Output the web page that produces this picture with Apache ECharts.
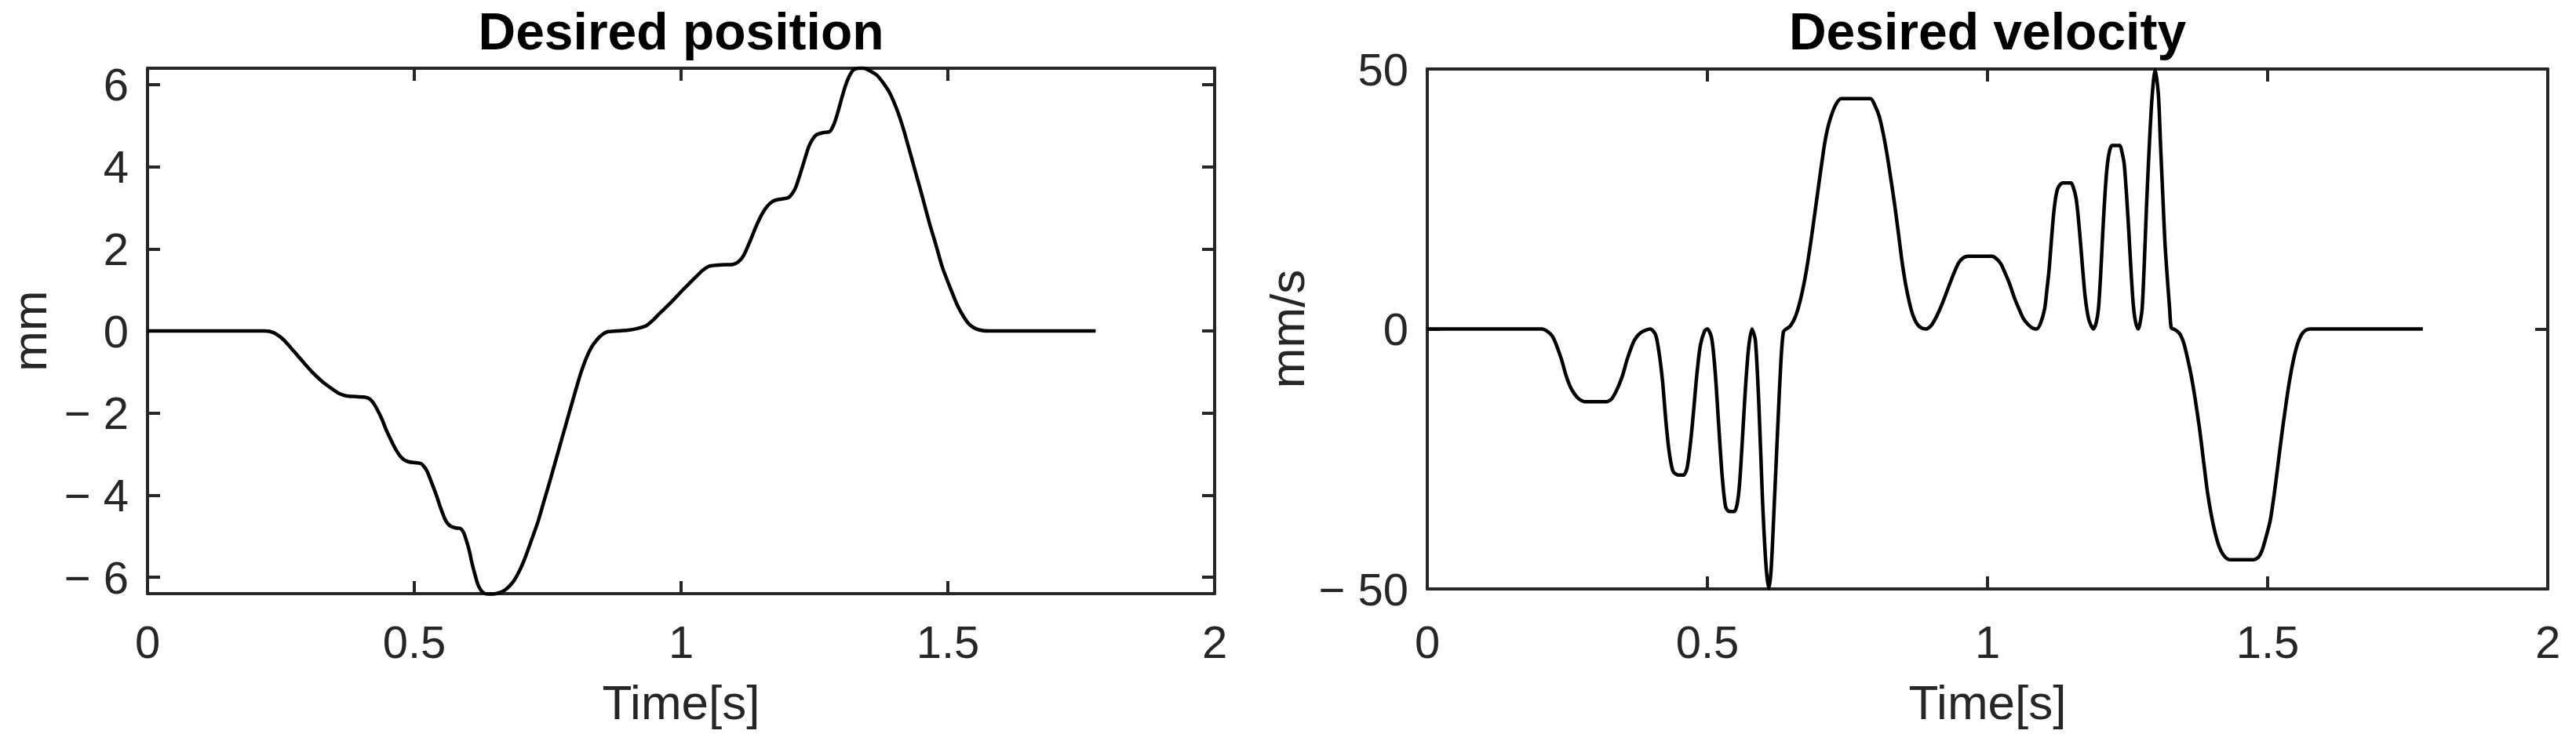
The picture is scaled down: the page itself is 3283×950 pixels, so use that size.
<!DOCTYPE html>
<html>
<head>
<meta charset="utf-8">
<script src="https://cdn.jsdelivr.net/npm/echarts@6/dist/echarts.min.js"></script>
<style>
html,body{margin:0;padding:0;background:#ffffff;}
#chart{width:3283px;height:950px;}
</style>
</head>
<body>
<div id="chart"></div>
<script>
// ---------------- DATA ----------------
const titles = ['Desired position', 'Desired velocity'];
const xAxisName = 'Time[s]';
const yAxisNames = ['mm', 'mm/s'];

const timeTicks = [0, 0.5, 1, 1.5, 2];
const posTicks = [-6, -4, -2, 0, 2, 4, 6];
const velTicks = [-50, 0, 50];

// Desired position (mm)
const posTime = [0, 0.22, 0.236, 0.253, 0.268, 0.282, 0.296, 0.310, 0.322, 0.332, 0.349, 0.360, 0.372, 0.390, 0.405, 0.414, 0.422, 0.430, 0.439, 0.447, 0.456, 0.465, 0.473, 0.481, 0.490, 0.503, 0.512, 0.518, 0.524, 0.532, 0.541, 0.549, 0.557, 0.563, 0.569, 0.578, 0.586, 0.592, 0.597, 0.603, 0.608, 0.614, 0.619, 0.625, 0.631, 0.640, 0.648, 0.659, 0.670, 0.678, 0.687, 0.698, 0.709, 0.720, 0.732, 0.743, 0.755, 0.766, 0.778, 0.790, 0.803, 0.812, 0.822, 0.832, 0.842, 0.852, 0.862, 0.880, 0.901, 0.918, 0.935, 0.948, 0.960, 0.980, 0.999, 1.014, 1.028, 1.040, 1.053, 1.075, 1.097, 1.107, 1.117, 1.129, 1.141, 1.151, 1.161, 1.171, 1.181, 1.200, 1.207, 1.215, 1.227, 1.239, 1.247, 1.254, 1.266, 1.279, 1.286, 1.293, 1.300, 1.308, 1.315, 1.323, 1.333, 1.342, 1.355, 1.367, 1.379, 1.391, 1.404, 1.416, 1.428, 1.440, 1.453, 1.465, 1.478, 1.490, 1.506, 1.518, 1.530, 1.541, 1.553, 1.565, 1.576, 1.777];
const posValue = [0, 0, -0.04, -0.19, -0.40, -0.61, -0.82, -1.02, -1.17, -1.28, -1.44, -1.53, -1.58, -1.60, -1.61, -1.64, -1.73, -1.90, -2.14, -2.40, -2.65, -2.88, -3.04, -3.14, -3.19, -3.21, -3.23, -3.30, -3.42, -3.68, -3.99, -4.30, -4.57, -4.70, -4.76, -4.80, -4.81, -4.90, -5.08, -5.35, -5.65, -5.95, -6.17, -6.32, -6.39, -6.41, -6.41, -6.38, -6.31, -6.22, -6.08, -5.82, -5.48, -5.08, -4.64, -4.15, -3.62, -3.11, -2.56, -2.01, -1.42, -1.03, -0.67, -0.40, -0.22, -0.09, -0.02, 0.0, 0.02, 0.06, 0.13, 0.27, 0.43, 0.68, 0.94, 1.14, 1.32, 1.47, 1.58, 1.61, 1.62, 1.68, 1.83, 2.18, 2.56, 2.83, 3.03, 3.15, 3.20, 3.24, 3.32, 3.50, 3.98, 4.48, 4.68, 4.78, 4.83, 4.86, 5.02, 5.29, 5.62, 5.97, 6.20, 6.36, 6.40, 6.40, 6.33, 6.23, 6.04, 5.80, 5.41, 4.95, 4.40, 3.84, 3.23, 2.65, 2.08, 1.54, 1.00, 0.62, 0.34, 0.15, 0.05, 0.01, 0, 0];

// Desired velocity (mm/s)
const velTime = [0, 0.2044, 0.2231, 0.2388, 0.2481, 0.2575, 0.270, 0.2825, 0.320, 0.3294, 0.3388, 0.3481, 0.3575, 0.370, 0.3825, 0.3981,
  0.4075, 0.4138, 0.420, 0.4263, 0.4325, 0.4388, 0.4481, 0.4575, 0.4638, 0.470, 0.475, 0.4813, 0.4875, 0.495, 0.500,
  0.5075, 0.5138, 0.520, 0.5263, 0.5325, 0.5388, 0.5481, 0.5531, 0.5575, 0.5625, 0.5675, 0.5731, 0.5794,
  0.5856, 0.5919, 0.5981, 0.6044, 0.6094, 0.6138, 0.620, 0.6263, 0.6313, 0.6356, 0.6406, 0.6475, 0.6575, 0.6669, 0.6763, 0.6856, 0.695, 0.7073, 0.714, 0.721, 0.730, 0.739,
  0.791, 0.799, 0.807, 0.814, 0.820, 0.827, 0.834, 0.841, 0.847, 0.854, 0.861, 0.867, 0.874, 0.882, 0.890,
  0.899, 0.909, 0.917, 0.925, 0.933, 0.941, 0.949, 0.957, 0.965, 1.008, 1.016, 1.024, 1.032, 1.040, 1.048, 1.056, 1.064, 1.072, 1.080, 1.088,
  1.095, 1.102, 1.106, 1.110, 1.114, 1.118, 1.122, 1.126, 1.134, 1.149, 1.153, 1.158, 1.162, 1.166, 1.170, 1.174, 1.178, 1.182, 1.189,
  1.194, 1.198, 1.202, 1.206, 1.210, 1.214, 1.218, 1.222, 1.236, 1.240, 1.244, 1.248, 1.252, 1.256, 1.260, 1.264, 1.269,
  1.272, 1.276, 1.280, 1.284, 1.288, 1.292, 1.296, 1.299, 1.302, 1.3055, 1.309, 1.3135, 1.317, 1.3215, 1.325, 1.328,
  1.334, 1.343, 1.350, 1.357, 1.364, 1.371, 1.3785, 1.3855, 1.3925, 1.3995, 1.4065, 1.4136, 1.4206, 1.428, 1.4346,
  1.4743, 1.4836, 1.4907, 1.4977, 1.5047, 1.5117, 1.518, 1.525, 1.532, 1.539, 1.546, 1.553, 1.560, 1.567, 1.576, 1.777];
const velValue = [0, 0, -1.35, -5.6, -9.1, -11.6, -13.4, -14.0, -14.0, -13.4, -11.6, -9.1, -5.6, -2.1, -0.6, 0,
  -1.1, -4.6, -10.1, -18.2, -24.2, -27.4, -28.1, -28.1, -26.7, -21.7, -16.2, -8.6, -3.1, -0.4, 0,
  -1.7, -8.1, -18.2, -28.2, -34.2, -35.1, -35.1, -33.7, -29.7, -21.2, -12.1, -4.1, 0,
  -2.1, -14.6, -32.2, -45.2, -49.9, -46.2, -32.2, -17.2, -6.1, -0.6, 0.0, 0.5, 2.5, 6.0, 11.0, 17.5, 24.8, 34.3, 38.3, 41.0, 43.3, 44.3,
  44.3, 43.0, 40.8, 37.5, 34.0, 29.2, 24.1, 18.4, 13.3, 8.5, 4.9, 2.6, 1.0, 0.2, 0,
  0.6, 2.4, 4.3, 6.5, 8.8, 11.0, 12.8, 13.7, 14.0, 14.0, 13.5, 12.5, 10.6, 8.5, 6.0, 3.9, 2.0, 0.9, 0.2, 0,
  1.2, 3.9, 7.5, 11.5, 17.0, 22.1, 25.5, 27.2, 28.1, 28.1, 27.3, 25.2, 21.5, 16.6, 11.3, 6.5, 3.3, 1.4, 0,
  1.2, 3.9, 10.5, 19.1, 26.5, 31.7, 34.3, 35.3, 35.3, 34.0, 31.7, 26.0, 19.1, 11.5, 4.9, 1.5, 0,
  1.0, 3.9, 13.0, 24.1, 33.5, 41.8, 47.5, 49.8, 48.2, 44.3, 35.0, 24.1, 16.0, 9.0, 4.0, 0.2,
  -0.1, -0.9, -2.6, -5.6, -9.2, -13.7, -19.2, -25.3, -31.3, -35.8, -39.3, -41.9, -43.4, -44.2, -44.4,
  -44.4, -43.9, -42.4, -39.8, -36.8, -31.8, -26.5, -20.5, -15.0, -10.0, -6.0, -3.0, -1.2, -0.3, 0, 0];

// ---------------- CHART ----------------
const FONT = "'Liberation Sans', Arial, Helvetica, sans-serif";
const AXIS_COLOR = '#262626';
const AXIS_W = 4;
const TICK_LEN = 16;

function minusFmt(v) {
  if (v < 0) return '\u2212 ' + (-v);
  return String(v);
}

const pairs = (xs, ys) => xs.map((x, i) => [x, ys[i]]);

const grids = [
  { left: 188, top: 87, width: 1360, height: 670 },
  { left: 1819, top: 88, width: 1428, height: 663 }
];

function xAxes(gi, labelMargin, nameGap) {
  const common = {
    type: 'value', gridIndex: gi, min: 0, max: 2,
    axisLine: { show: true, onZero: false, lineStyle: { color: AXIS_COLOR, width: AXIS_W } },
    axisTick: { show: true, inside: true, length: TICK_LEN, customValues: timeTicks,
      lineStyle: { color: AXIS_COLOR, width: AXIS_W } },
    splitLine: { show: false }
  };
  return [
    Object.assign({}, common, {
      position: 'bottom',
      name: xAxisName, nameLocation: 'middle', nameGap: nameGap,
      nameTextStyle: { fontFamily: FONT, fontSize: 62, color: AXIS_COLOR },
      axisLabel: { show: true, customValues: timeTicks, margin: labelMargin,
        fontFamily: FONT, fontSize: 58, color: AXIS_COLOR,
        showMinLabel: true, showMaxLabel: true }
    }),
    Object.assign({}, common, {
      position: 'top',
      axisLabel: { show: false }
    })
  ];
}

function yAxes(gi, mn, mx, ticks, name, nameGap) {
  const common = {
    type: 'value', gridIndex: gi, min: mn, max: mx,
    axisLine: { show: true, onZero: false, lineStyle: { color: AXIS_COLOR, width: AXIS_W } },
    axisTick: { show: true, inside: true, length: TICK_LEN, customValues: ticks,
      lineStyle: { color: AXIS_COLOR, width: AXIS_W } },
    splitLine: { show: false }
  };
  return [
    Object.assign({}, common, {
      position: 'left',
      name: name, nameLocation: 'middle', nameGap: nameGap,
      nameTextStyle: { fontFamily: FONT, fontSize: 62, color: AXIS_COLOR },
      axisLabel: { show: true, customValues: ticks, margin: 24, formatter: minusFmt,
        fontFamily: FONT, fontSize: 58, color: AXIS_COLOR,
        showMinLabel: true, showMaxLabel: true }
    }),
    Object.assign({}, common, {
      position: 'right',
      axisLabel: { show: false }
    })
  ];
}

const chart = echarts.init(document.getElementById('chart'), null, { renderer: 'svg', width: 3283, height: 950 });

const option = {
  backgroundColor: '#ffffff',
  animation: false,
  title: [
    { text: titles[0], left: 868, top: 40, textAlign: 'center', textVerticalAlign: 'middle', padding: 0,
      textStyle: { fontFamily: FONT, fontSize: 66, fontWeight: 'bold', color: '#000000' } },
    { text: titles[1], left: 2533, top: 40, textAlign: 'center', textVerticalAlign: 'middle', padding: 0,
      textStyle: { fontFamily: FONT, fontSize: 66, fontWeight: 'bold', color: '#000000' } }
  ],
  grid: grids,
  xAxis: [].concat(xAxes(0, 32, 107), xAxes(1, 38, 113)),
  yAxis: [].concat(yAxes(0, -6.4, 6.4, posTicks, yAxisNames[0], 120), yAxes(1, -50, 50, velTicks, yAxisNames[1], 148)),
  series: [
    { name: titles[0], type: 'line', xAxisIndex: 0, yAxisIndex: 0, data: pairs(posTime, posValue),
      showSymbol: false, smooth: 0.25, clip: false,
      lineStyle: { color: '#000000', width: 4.5 } },
    { name: titles[1], type: 'line', xAxisIndex: 2, yAxisIndex: 2, data: pairs(velTime, velValue),
      showSymbol: false, smooth: 0.25, clip: false,
      lineStyle: { color: '#000000', width: 4.5 } }
  ]
};
chart.setOption(option);
</script>
</body>
</html>
